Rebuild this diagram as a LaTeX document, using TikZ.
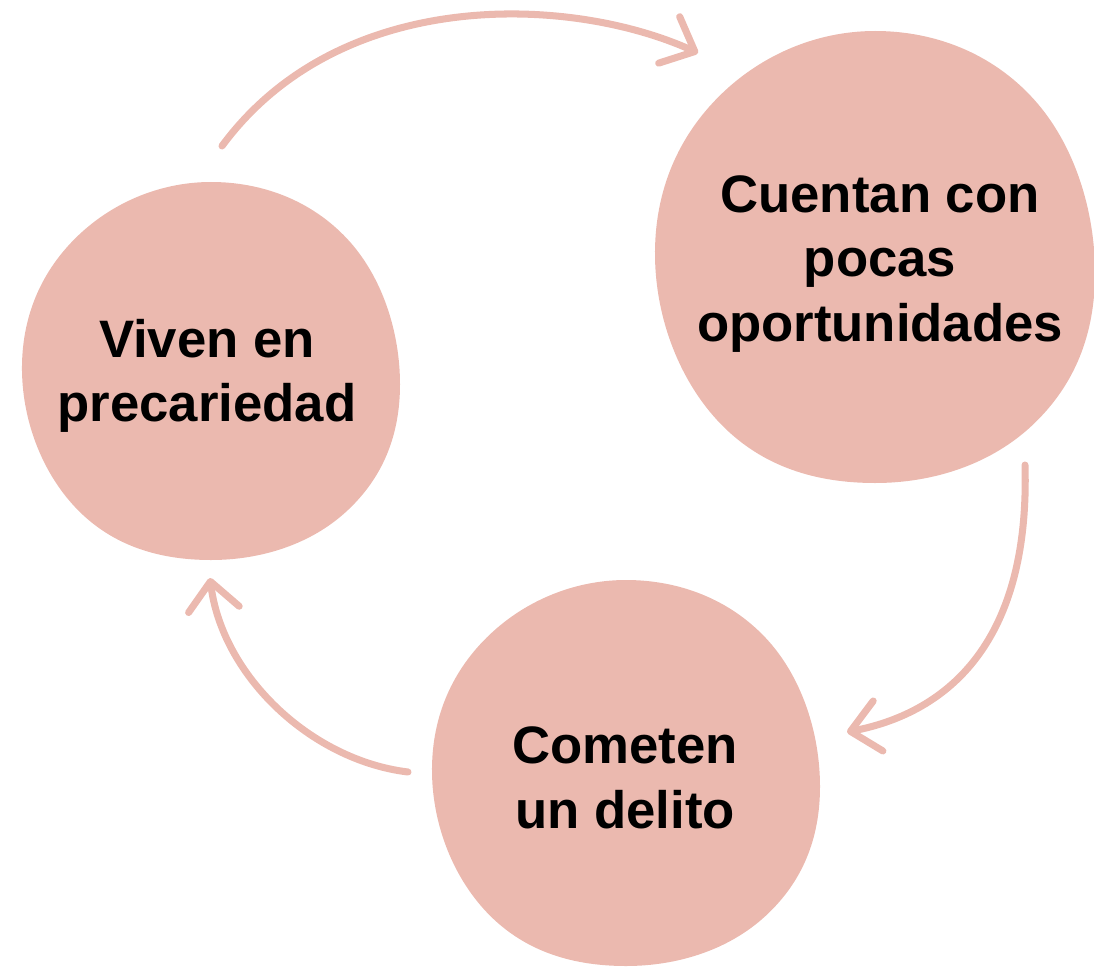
\documentclass[tikz,border=0pt]{standalone}
\usepackage{fontspec}
\setmainfont{Liberation Sans}
\usepackage{tikz}
\usetikzlibrary{calc, arrows.meta}
\usepackage{xcolor}
\definecolor{blobpink}{HTML}{EBB9AF}

\tikzset{blob/.pic={
	\fill[blobpink] plot[smooth cycle, tension=0.68] coordinates {
		(0.0,-1.0) (0.72,-0.7) (1.0,0.07) (0.72,0.74)
		(0.0,1.0) (-0.7,0.74) (-1.0,0.0) (-0.72,-0.7)};
}}

\begin{document}
\begin{tikzpicture}[x=0.02cm, y=-0.02cm]
			\tikzstyle{label} = [font=\fontsize{30}{36.7}\selectfont\bfseries, align=center, inner sep=0pt]
			\tikzstyle{arrow} = [line width=4pt, blobpink, line cap=round, -{Straight Barb[length=16pt, width=29pt, round]}]
			
			\useasboundingbox (0,0) rectangle (1094,966);
			
			\pic[xscale=189, yscale=189] at (211,371)	{blob};
			\pic[xscale=220, yscale=226] at (875,257)	{blob};
			\pic[xscale=194, yscale=193] at (626,773)	{blob};
			
			\node[label]	at (207,376)	(viven)		{Viven en\\precariedad};
			\node[label]	at (880,264)	(cuentan)	{Cuentan con\\pocas\\oportunidades};
			\node[label]	at (625,778)	(cometen)	{Cometen\\un delito};
			
			\draw [arrow] ($(viven)+(15,-230)$) .. controls +(118,-160) and +(-128,-58) .. ($(cuentan)+(-182,-211)$);
			\draw [arrow] ($(cuentan)+(145,201)$) .. controls +(5,175) and +(103,-20) .. ($(cometen)+(222,-46)$);
			\draw [arrow] ($(cometen)+(-217,-6)$) .. controls +(-98,-12) and +(12,97) .. ($(viven)+(3,202)$);
		\end{tikzpicture}
\end{document}
